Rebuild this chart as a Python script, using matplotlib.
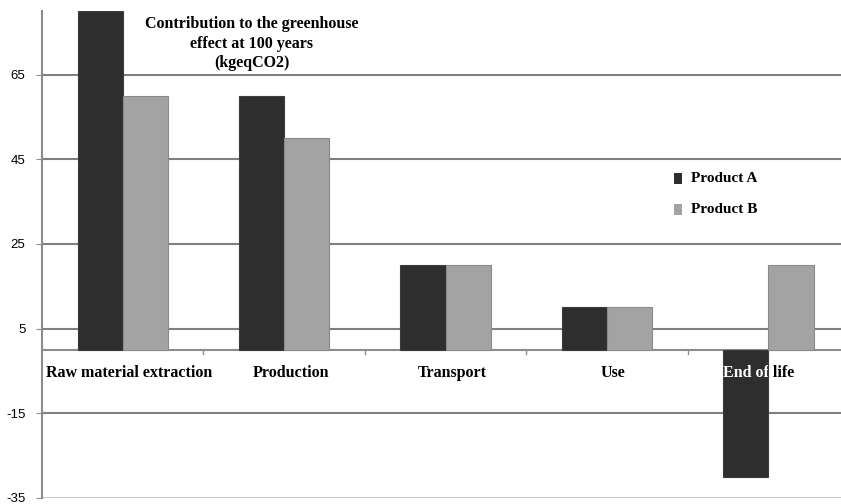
import matplotlib.pyplot as plt
from matplotlib.transforms import Bbox, TransformedBbox
import numpy as np

# data
stages = ['Raw material extraction', 'Production', 'Transport', 'Use', 'End of life']
product_a = [80, 60, 20, 10, -30]
product_b = [60, 50, 20, 10, 20]
yticks = [-35, -15, 5, 25, 45, 65]

serif = ['Liberation Serif', 'DejaVu Serif']
sans = ['Liberation Sans', 'DejaVu Sans']

fig = plt.figure(figsize=(8.41, 5.04), dpi=100)
ax = fig.add_axes([0.05, 0.012, 0.95, 0.966])

x = np.arange(len(stages))
w = 0.28
bars_a = ax.bar(x - w / 2, product_a, w, color='#2e2e2e', edgecolor='#3c3c3c', linewidth=0.8, zorder=3)
bars_b = ax.bar(x + w / 2, product_b, w, color='#a3a3a3', edgecolor='#8a8a8a', linewidth=0.8, zorder=3)

ax.set_xlim(-0.5, 4.45)
ax.set_ylim(-35, 80)

# grid lines
for v in yticks:
    col = '#c8c8c8' if v == -35 else '#7f7f7f'
    ax.axhline(v, color=col, linewidth=1.5, zorder=1)
ax.axhline(0, color='#8c8c8c', linewidth=1.5, zorder=2)
for b in [0.5, 1.5, 2.5, 3.5]:
    ax.plot([b, b], [0, -1.1], color='#8c8c8c', linewidth=1, zorder=2)

for s in ['top', 'right', 'bottom']:
    ax.spines[s].set_visible(False)
ax.spines['left'].set_color('#8c8c8c')
ax.spines['left'].set_linewidth(1.5)

ax.set_xticks([])
ax.set_yticks(yticks)
ax.set_yticklabels([str(v) for v in yticks], family=sans, fontsize=9.5)
ax.tick_params(axis='y', length=4, color='#8c8c8c', pad=8)

# category labels under the zero line (the last one sits a bit left)
label_shift = [0.04, 0.04, 0.04, 0.04, -0.06]
for i, name in enumerate(stages):
    ax.text(i + label_shift[i], -5.5, name, ha='center', va='center', family=serif,
            fontsize=11.5, fontweight='bold', color='black', zorder=2.5)
    # part of the label that sits over the dark bar shows white
    if product_a[i] < 0:
        bar = bars_a[i]
        box = Bbox([[bar.get_x(), product_a[i]], [bar.get_x() + bar.get_width(), 0]])
        t2 = ax.text(i + label_shift[i], -5.5, name, ha='center', va='center', family=serif,
                     fontsize=11.5, fontweight='bold', color='white', zorder=5)
        t2.set_clip_on(True)
        t2.set_clip_box(TransformedBbox(box, ax.transData))

ax.text(0.8, 78.8, 'Contribution to the greenhouse\neffect at 100 years\n(kgeqCO2)',
        ha='center', va='top', family=serif, fontsize=11.5, fontweight='bold',
        linespacing=1.3, zorder=5)

# legend
ax.bar([3.44], [2.6], 0.045, bottom=[39.1], color='#2e2e2e', zorder=5)
ax.bar([3.44], [2.6], 0.045, bottom=[31.8], color='#a3a3a3', zorder=5)
ax.text(3.52, 40.4, 'Product A', ha='left', va='center', family=serif,
        fontsize=11, fontweight='bold', zorder=5)
ax.text(3.52, 33.1, 'Product B', ha='left', va='center', family=serif,
        fontsize=11, fontweight='bold', zorder=5)

fig.savefig('out.png', dpi=100)
